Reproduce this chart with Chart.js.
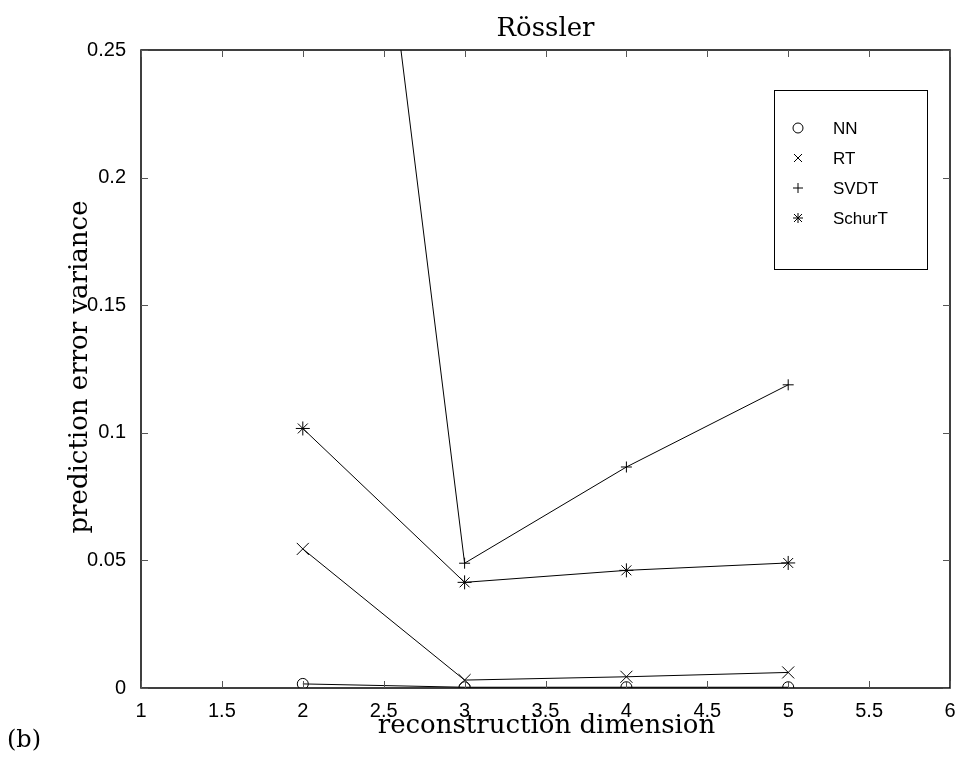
<!DOCTYPE html>
<html>
<head>
<meta charset="utf-8">
<script src="https://cdn.jsdelivr.net/npm/chart.js@4/dist/chart.umd.min.js"></script>
<style>
  body { margin: 0; background: #fff; }
  #wrap { width: 961px; height: 761px; }
</style>
</head>
<body>
<div id="wrap"><canvas id="myChart" width="961" height="761"></canvas></div>
<script>
// data
var dims = [2, 3, 4, 5];
var nnVals = [0.0016, 0.0003, 0.0003, 0.0003];
var rtVals = [0.0545, 0.0031, 0.0044, 0.0061];
var svdtVals = [0.56, 0.0489, 0.0866, 0.1188];
var schurVals = [0.1017, 0.0414, 0.0461, 0.0490];
var seriesNames = ['NN', 'RT', 'SVDT', 'SchurT'];
var seriesMarkers = ['circle', 'crossRot', 'cross', 'star'];
var xTicks = [1, 1.5, 2, 2.5, 3, 3.5, 4, 4.5, 5, 5.5, 6];
var yTicks = [0, 0.05, 0.1, 0.15, 0.2, 0.25];

var titleText = 'Rössler';
var xLabel = 'reconstruction dimension';
var yLabel = 'prediction error variance';
var panelLabel = '(b)';

function toPoints (vals) {
    return dims.map(function (d, i) { return {x: d, y: vals[i]} });
}

var markerRadius = {circle: 5.5, crossRot: 8.5, cross: 5.5, star: 7};

function makeSet (i, vals) {
    var m = seriesMarkers[i];
    return {
        label: seriesNames[i],
        data: toPoints(vals),
        borderColor: '#000',
        backgroundColor: '#000',
        borderWidth: 1,
        pointStyle: m,
        pointRadius: markerRadius[m],
        pointBorderWidth: 1,
        pointBorderColor: '#000',
        pointBackgroundColor: 'rgba(0,0,0,0)',
        tension: 0,
        fill: false
    };
}

// box, inner tick marks, labels and legend, drawn like the matlab figure
var frame = {
    id: 'frame',
    afterDraw: function (chart) {
        var ctx = chart.ctx;
        var a = chart.chartArea;
        var xs = chart.scales.x, ys = chart.scales.y;
        ctx.save();
        ctx.strokeStyle = '#000';
        ctx.lineWidth = 1.5;
        ctx.strokeRect(a.left, a.top, a.right - a.left, a.bottom - a.top);

        ctx.lineWidth = 1;
        ctx.strokeStyle = '#555';
        var tl = 7;
        ctx.beginPath();
        xTicks.forEach(function (t) {
            var px = Math.round(xs.getPixelForValue(t)) + 0.5;
            ctx.moveTo(px, a.bottom); ctx.lineTo(px, a.bottom - tl);
            ctx.moveTo(px, a.top); ctx.lineTo(px, a.top + tl);
        });
        yTicks.forEach(function (t) {
            var py = Math.round(ys.getPixelForValue(t)) + 0.5;
            ctx.moveTo(a.left, py); ctx.lineTo(a.left + tl, py);
            ctx.moveTo(a.right, py); ctx.lineTo(a.right - tl, py);
        });
        ctx.stroke();

        // texts
        ctx.fillStyle = '#000';
        ctx.font = '26px "DejaVu Serif"';
        ctx.textAlign = 'center';
        ctx.textBaseline = 'alphabetic';
        ctx.fillText(titleText, (a.left + a.right) / 2, 36);

        ctx.font = '26px "DejaVu Serif"';
        ctx.fillText(xLabel, (a.left + a.right) / 2 + 1, 733);

        ctx.save();
        ctx.translate(87, (a.top + a.bottom) / 2 - 2);
        ctx.rotate(-Math.PI / 2);
        ctx.fillText(yLabel, 0, 0);
        ctx.restore();

        ctx.textAlign = 'left';
        ctx.font = '24px "DejaVu Serif"';
        ctx.fillText(panelLabel, 7, 747);

        // legend
        var bx = 774, by = 90, bw = 153, bh = 179;
        ctx.fillStyle = '#fff';
        ctx.fillRect(bx, by, bw, bh);
        ctx.strokeStyle = '#000';
        ctx.lineWidth = 1;
        ctx.strokeRect(bx + 0.5, by + 0.5, bw, bh);
        ctx.font = '17px "Liberation Sans"';
        ctx.textBaseline = 'middle';
        ctx.fillStyle = '#000';
        seriesNames.forEach(function (name, i) {
            var cy = 128 + i * 30, cx = 798;
            drawMarker(ctx, seriesMarkers[i], cx, cy, 5);
            ctx.fillText(name, 833, cy + 1);
        });
        ctx.restore();
    }
};

function drawMarker (ctx, style, cx, cy, r) {
    ctx.beginPath();
    ctx.strokeStyle = '#000';
    ctx.lineWidth = 1;
    if (style === 'circle') {
        ctx.arc(cx, cy, r, 0, Math.PI * 2);
    } else {
        var d = r * 0.8;
        if (style === 'cross' || style === 'star') {
            ctx.moveTo(cx - r, cy); ctx.lineTo(cx + r, cy);
            ctx.moveTo(cx, cy - r); ctx.lineTo(cx, cy + r);
        }
        if (style === 'crossRot' || style === 'star') {
            ctx.moveTo(cx - d, cy - d); ctx.lineTo(cx + d, cy + d);
            ctx.moveTo(cx - d, cy + d); ctx.lineTo(cx + d, cy - d);
        }
    }
    ctx.stroke();
}

var ctx = document.getElementById('myChart').getContext('2d');
var myChart = new Chart(ctx, {
    type: 'line',
    data: {
        datasets: [
            makeSet(0, nnVals),
            makeSet(1, rtVals),
            makeSet(2, svdtVals),
            makeSet(3, schurVals)
        ]
    },
    options: {
        responsive: false,
        animation: false,
        layout: { padding: { top: 50, right: 11, left: 0, bottom: 0 } },
        plugins: {
            legend: { display: false },
            title: { display: false },
            tooltip: { enabled: false }
        },
        scales: {
            x: {
                type: 'linear',
                min: 1, max: 6,
                afterBuildTicks: function (s) { s.ticks = xTicks.map(function (v) { return {value: v} }) },
                afterFit: function (s) { s.height = 73 },
                grid: { display: false },
                border: { display: false },
                ticks: {
                    color: '#000',
                    font: { family: 'Liberation Sans', size: 20 },
                    padding: 3,
                    maxRotation: 0,
                    autoSkip: false,
                    callback: function (v) { return String(v) }
                }
            },
            y: {
                type: 'linear',
                min: 0, max: 0.25,
                afterBuildTicks: function (s) { s.ticks = yTicks.map(function (v) { return {value: v} }) },
                afterFit: function (s) { s.width = 141 },
                grid: { display: false },
                border: { display: false },
                ticks: {
                    color: '#000',
                    font: { family: 'Liberation Sans', size: 20 },
                    padding: 7,
                    autoSkip: false,
                    callback: function (v) { return String(+v.toFixed(2)) }
                }
            }
        }
    },
    plugins: [frame]
});
</script>
</body>
</html>
